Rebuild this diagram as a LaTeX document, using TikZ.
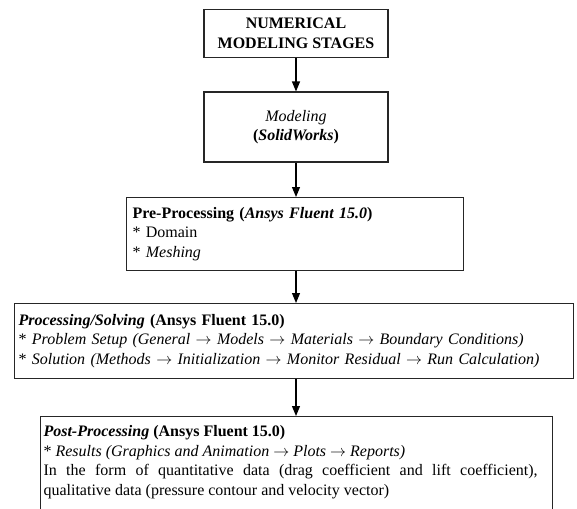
\documentclass[tikz,border=0pt]{standalone}
\usepackage{fontspec}
\setmainfont{Liberation Serif}
\usetikzlibrary{arrows.meta}
\newcommand{\ra}{$\rightarrow$}
\begin{document}
\begin{tikzpicture}[x=0.75pt,y=-0.75pt,
  box/.style={draw=black!85, line width=0.8pt, inner ysep=0pt},
  txt/.style={font=\fontsize{12}{14.6}\selectfont},
  arr/.style={line width=0.8pt, -{Triangle[length=7.5pt,width=6pt]}}]
\useasboundingbox (0,0) rectangle (577,508);
\clip (0,0) rectangle (577,508);
\coordinate (ax) at (296,0);
\node[box, txt, align=center, inner xsep=2pt, minimum width=138pt, minimum height=36pt] (s) at (296,33.5)
  {\bfseries NUMERICAL\\\bfseries MODELING STAGES};
\node[box, txt, align=center, minimum width=138pt, minimum height=52.5pt] (m) at (296,127)
  {\itshape Modeling\\\textbf{(\textit{SolidWorks})}};
\node[box, txt, anchor=north west, align=left, inner xsep=4.5pt, text width=243.75pt, minimum height=54.75pt] (pre) at (126,197)
  {\textbf{Pre-Processing (\textit{Ansys Fluent 15.0})}\\
   {*} Domain\\
   {*} \textit{Meshing}};
\node[box, txt, anchor=north west, align=left, inner xsep=3pt, text width=413.25pt, minimum height=56.25pt] (solv) at (14,303)
  {\textbf{\textit{Processing/Solving} (Ansys Fluent 15.0)}\\
   {*} \textit{Problem Setup (General \ra{} Models \ra{} Materials \ra{} Boundary Conditions)}\\
   {*} \textit{Solution (Methods \ra{} Initialization \ra{} Monitor Residual \ra{} Run Calculation)}};
\node[box, txt, anchor=north west, align=justify, inner xsep=2.25pt, inner ysep=7pt, text width=379.5pt] (post) at (40,416)
  {\rightskip=9pt
   \textbf{\textit{Post-Processing} (Ansys Fluent 15.0)}\\
   {*} \textit{Results (Graphics and Animation \ra{} Plots \ra{} Reports)}\\
   In the form of quantitative data (drag coefficient and lift coefficient),\linebreak
   qualitative data (pressure contour and velocity vector)\par
   \rule{0pt}{40pt}};
\draw[arr] (s.south -| ax) -- (m.north -| ax);
\draw[arr] (m.south -| ax) -- (pre.north -| ax);
\draw[arr] (pre.south -| ax) -- (solv.north -| ax);
\draw[arr] (solv.south -| ax) -- (post.north -| ax);
\end{tikzpicture}
\end{document}
